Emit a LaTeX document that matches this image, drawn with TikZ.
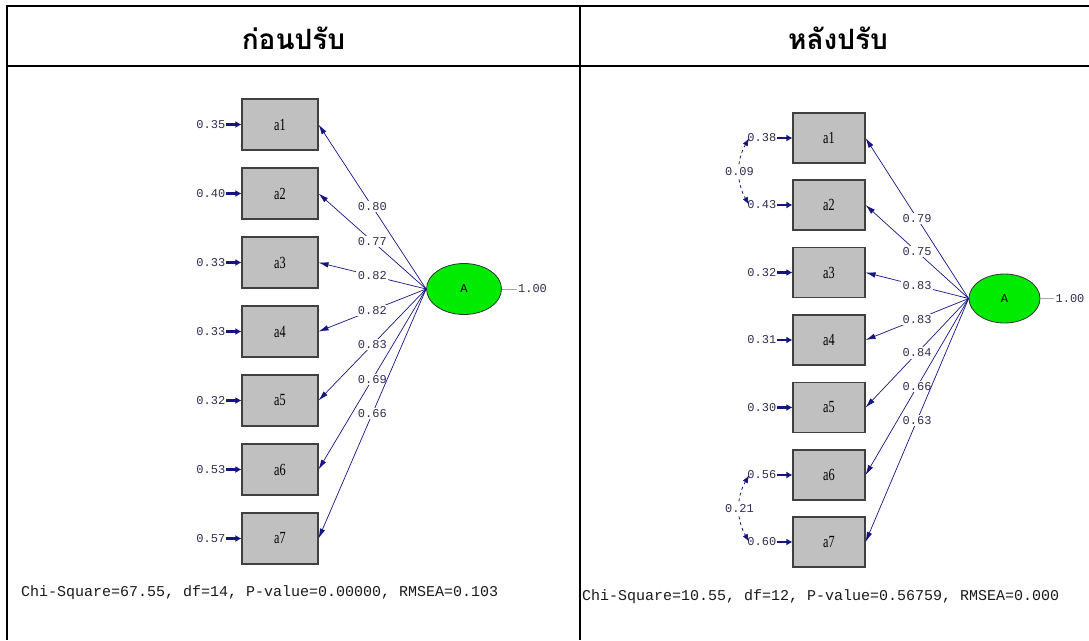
\documentclass[tikz,border=0pt]{standalone}
\usepackage{fontspec}
\setmainfont{Liberation Serif}
\setmonofont{Liberation Mono}
\newfontfamily\thaifont[Script=Thai]{Loma}
\newfontfamily\boxfont[FakeStretch=0.72]{Liberation Serif}
\usetikzlibrary{arrows.meta,positioning,shapes.geometric}
\definecolor{lisblue}{RGB}{20,20,130}
\definecolor{numc}{RGB}{50,45,80}
\definecolor{boxgray}{RGB}{192,192,192}
\definecolor{latgreen}{RGB}{0,235,0}

\begin{document}
\begin{tikzpicture}[x=1pt,y=-1pt,
    tbl/.style={line width=2pt},
    head/.style={font=\thaifont\bfseries\fontsize{28}{28}\selectfont},
    obs/.style={draw=black!75, line width=1.1pt, fill=boxgray, minimum width=76pt, minimum height=51pt, inner sep=0pt, font=\boxfont\fontsize{17}{17}\selectfont},
    obsr/.style={obs, minimum width=72pt, minimum height=50pt},
    lat/.style={ellipse, draw=black!80, line width=0.8pt, fill=latgreen, inner sep=0pt, font=\ttfamily\fontsize{12}{12}\selectfont},
    num/.style={font=\ttfamily\fontsize{12}{12}\selectfont, text=numc, inner sep=1pt},
    load/.style={num, fill=white, inner sep=1.5pt},
    ld/.style={lisblue, line width=0.7pt, -{Latex[length=10pt,width=5.5pt]}},
    err/.style={lisblue, line width=2.2pt, -{Latex[length=6pt,width=7pt]}},
    corr/.style={lisblue, line width=0.8pt, dashed, {Latex[length=8pt,width=5.5pt]}-{Latex[length=8pt,width=5.5pt]}},
    fitline/.style={font=\ttfamily\fontsize{15}{15}\selectfont, text=black!90, anchor=west, inner sep=0pt}]
\useasboundingbox (0,0) rectangle (1089,640);

% table
\draw[tbl] (6,6) -- (1089,6);
\draw[tbl] (6,66) -- (1089,66);
\draw[tbl] (7,5) -- (7,640);
\draw[tbl] (580,5) -- (580,640);
\node[head] (h1) at (293.5,38) {ก่อนปรับ};
\node[head] (h2) at (838,38) {หลังปรับ};

% before
\node[obs] (L1) at (280,124.5) {a1};
\node[obs] (L2) at (280,193.5) {a2};
\node[obs] (L3) at (280,262.5) {a3};
\node[obs] (L4) at (280,331.5) {a4};
\node[obs] (L5) at (280,400.5) {a5};
\node[obs] (L6) at (280,469.5) {a6};
\node[obs] (L7) at (280,538.5) {a7};
\node[num] (eL1) [left=15pt of L1] {0.35};
\node[num] (eL2) [left=15pt of L2] {0.40};
\node[num] (eL3) [left=15pt of L3] {0.33};
\node[num] (eL4) [left=15pt of L4] {0.33};
\node[num] (eL5) [left=15pt of L5] {0.32};
\node[num] (eL6) [left=15pt of L6] {0.53};
\node[num] (eL7) [left=15pt of L7] {0.57};
\node[lat, minimum width=75pt, minimum height=51pt] (AL) at (464,289) {A};
\node[num] (vL) [right=15pt of AL] {1.00};

\draw[err] (eL1) -- (L1);
\draw[err] (eL2) -- (L2);
\draw[err] (eL3) -- (L3);
\draw[err] (eL4) -- (L4);
\draw[err] (eL5) -- (L5);
\draw[err] (eL6) -- (L6);
\draw[err] (eL7) -- (L7);
\draw[gray!70, line width=0.8pt] (AL) -- (vL);
\draw[ld] (AL.west) -- node[load] {0.80} (L1.east);
\draw[ld] (AL.west) -- node[load] {0.77} (L2.east);
\draw[ld] (AL.west) -- node[load] {0.82} (L3.east);
\draw[ld] (AL.west) -- node[load] {0.82} (L4.east);
\draw[ld] (AL.west) -- node[load] {0.83} (L5.east);
\draw[ld] (AL.west) -- node[load] {0.69} (L6.east);
\draw[ld] (AL.west) -- node[load] {0.66} (L7.east);
\node[fitline] (chiL) at (21,593) {Chi-Square=67.55, df=14, P-value=0.00000, RMSEA=0.103};

% after
\node[obsr] (R1) at (829,138) {a1};
\node[obsr] (R2) at (829,205) {a2};
\node[obsr] (R3) at (829,272.5) {a3};
\node[obsr] (R4) at (829,340) {a4};
\node[obsr] (R5) at (829,407.5) {a5};
\node[obsr] (R6) at (829,475) {a6};
\node[obsr] (R7) at (829,542) {a7};
\node[num] (eR1) [left=15pt of R1] {0.38};
\node[num] (eR2) [left=15pt of R2] {0.43};
\node[num] (eR3) [left=15pt of R3] {0.32};
\node[num] (eR4) [left=15pt of R4] {0.31};
\node[num] (eR5) [left=15pt of R5] {0.30};
\node[num] (eR6) [left=15pt of R6] {0.56};
\node[num] (eR7) [left=15pt of R7] {0.60};
\node[lat, minimum width=71pt, minimum height=49pt] (AR) at (1004.5,298.5) {A};
\node[num] (vR) [right=14pt of AR] {1.00};

\draw[err] (eR1) -- (R1);
\draw[err] (eR2) -- (R2);
\draw[err] (eR3) -- (R3);
\draw[err] (eR4) -- (R4);
\draw[err] (eR5) -- (R5);
\draw[err] (eR6) -- (R6);
\draw[err] (eR7) -- (R7);
\draw[gray!70, line width=0.8pt] (AR) -- (vR);
\draw[ld] (AR.west) -- node[load] {0.79} (R1.east);
\draw[ld] (AR.west) -- node[load] {0.75} (R2.east);
\draw[ld] (AR.west) -- node[load] {0.83} (R3.east);
\draw[ld] (AR.west) -- node[load] {0.83} (R4.east);
\draw[ld] (AR.west) -- node[load] {0.84} (R5.east);
\draw[ld] (AR.west) -- node[load] {0.66} (R6.east);
\draw[ld] (AR.west) -- node[load] {0.63} (R7.east);
\draw[corr] ([xshift=3pt]eR1.west) to[bend right=30] node[load] {0.09} ([xshift=3pt]eR2.west);
\draw[corr] ([xshift=3pt]eR6.west) to[bend right=30] node[load] {0.21} ([xshift=3pt]eR7.west);
\node[fitline] (chiR) at (582,597) {Chi-Square=10.55, df=12, P-value=0.56759, RMSEA=0.000};
\end{tikzpicture}
\end{document}
